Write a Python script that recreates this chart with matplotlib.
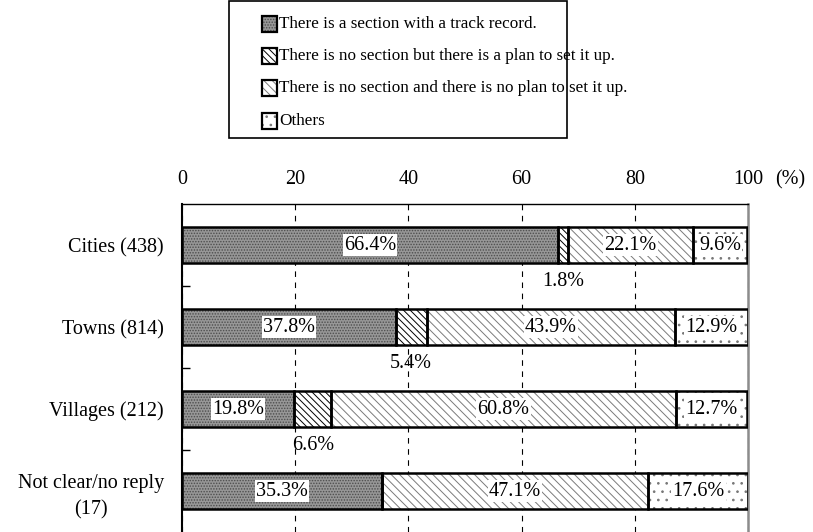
import numpy as np
import matplotlib.pyplot as plt
from matplotlib.patches import Rectangle

plt.rcParams['font.family'] = ['Liberation Serif', 'Noto Sans CJK JP']
plt.rcParams['hatch.linewidth'] = 0.7

categories = ['Cities (438)', 'Towns (814)', 'Villages (212)', 'Not clear/no reply\n(17)']
series = ['There is a section with a track record.',
          'There is no section but there is a plan to set it up.',
          'There is no section and there is no plan to set it up.',
          'Others']
with_record = [66.4, 37.8, 19.8, 35.3]
plan_only = [1.8, 5.4, 6.6, 0.0]
no_plan = [22.1, 43.9, 60.8, 47.1]
others = [9.6, 12.9, 12.7, 17.6]
x_ticks = [0, 20, 40, 60, 80, 100]

values = np.array([with_record, plan_only, no_plan, others])
# face colour, hatch pattern, hatch colour
styles = [('#979797', '......', '#4d4d4d'),
          ('white', '\\\\\\\\\\', 'black'),
          ('white', '\\\\\\\\', '#7a7a7a'),
          ('white', '..', '#777777')]

W, H = 813, 532
fig = plt.figure(figsize=(W / 100, H / 100), dpi=100)
ax = fig.add_axes([182 / W, 0, 566 / W, 328 / H])

y = np.arange(len(categories))
bar_h = 0.43
left = np.zeros(len(categories))
for vals, (fc, hatch, hc) in zip(values, styles):
    ax.barh(y, vals, left=left, height=bar_h, color=fc, edgecolor=hc,
            hatch=hatch, linewidth=0, zorder=2)
    ax.barh(y, vals, left=left, height=bar_h, fill=False, edgecolor='black',
            linewidth=1.8, zorder=3)
    left += vals

# value labels
left = np.zeros(len(categories))
for k, vals in enumerate(values):
    for i, v in enumerate(vals):
        if v <= 0:
            continue
        cx = left[i] + v / 2
        if k == 1:
            ax.text(cx, y[i] + 0.445, f'{v:.1f}%', ha='center', va='center',
                    fontsize=14.5, zorder=5)
        else:
            ax.text(cx, y[i], f'{v:.1f}%', ha='center', va='center', fontsize=14.5,
                    zorder=5, bbox=dict(facecolor='white', edgecolor='none', pad=0.8))
    left += vals

ax.set_xlim(0, 100)
ax.set_ylim(len(categories) - 0.5, -0.5)
ax.set_xticks(x_ticks)
ax.xaxis.tick_top()
ax.tick_params(axis='x', length=0, pad=11, labelsize=14.5)
ax.set_yticks(y)
ax.set_yticklabels(categories, multialignment='center', linespacing=1.45)
ax.tick_params(axis='y', which='major', length=0, pad=13, labelsize=14.5)
ax.set_yticks(y[:-1] + 0.5, minor=True)
ax.tick_params(axis='y', which='minor', direction='in', length=6, width=1)

ax.set_axisbelow(True)
ax.xaxis.grid(True, color='black', linestyle=(0, (5, 5)), linewidth=0.8)
ax.spines['bottom'].set_visible(False)
ax.spines['left'].set_linewidth(1.5)
ax.spines['top'].set_linewidth(1.0)
ax.spines['right'].set_color('#8c8c8c')
ax.spines['right'].set_linewidth(1.8)

fig.text(775 / W, 1 - 180 / H, '(%)', ha='left', va='center', fontsize=14.5,
         family='Liberation Serif')

# legend box
fig.add_artist(Rectangle((229 / W, 1 - 138 / H), 338 / W, 137 / H,
                         transform=fig.transFigure, fill=False, lw=1.2,
                         edgecolor='black'))
row_y = [24, 56, 88, 121]
for (fc, hatch, hc), label, ry in zip(styles, series, row_y):
    fig.add_artist(Rectangle((262 / W, 1 - (ry + 7.5) / H), 15 / W, 15 / H,
                             transform=fig.transFigure, facecolor=fc,
                             edgecolor=hc, hatch=hatch, lw=0))
    fig.add_artist(Rectangle((262 / W, 1 - (ry + 7.5) / H), 15 / W, 15 / H,
                             transform=fig.transFigure, fill=False,
                             edgecolor='black', lw=1.6))
    fig.text(279 / W, 1 - ry / H, label, ha='left', va='center', fontsize=12.3)

fig.savefig('out.png', dpi=100)
